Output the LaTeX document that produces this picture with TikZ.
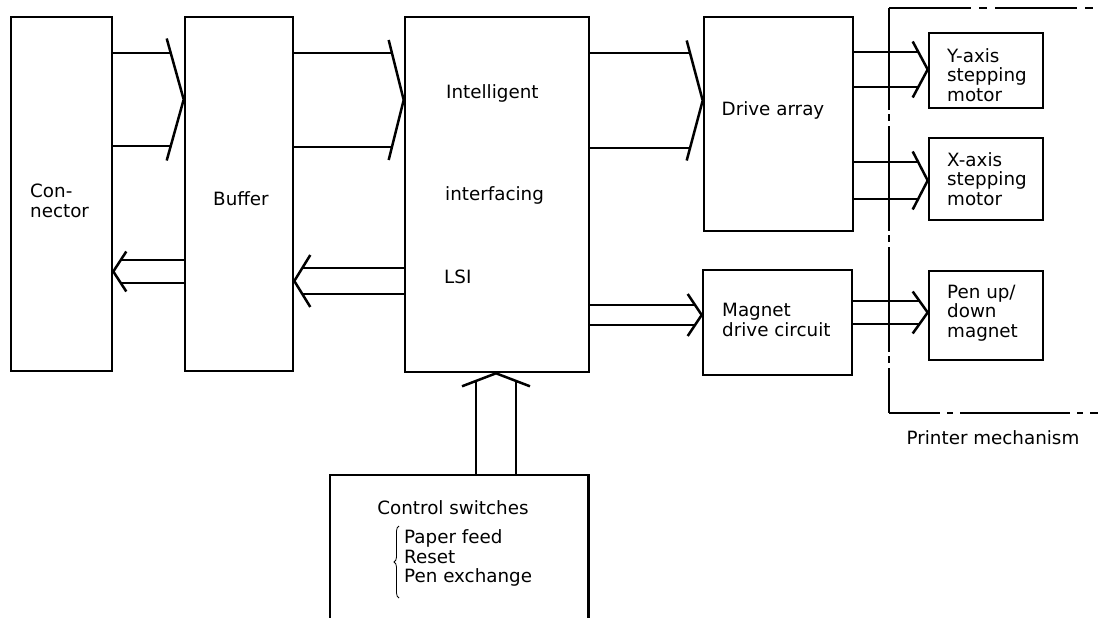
\documentclass[tikz,border=0pt]{standalone}
\usepackage{fontspec}
\setmainfont{DejaVu Sans}
\newfontfamily\lblfont{DejaVu Sans}
\usetikzlibrary{calc,decorations.pathreplacing}
\tikzset{
  box/.style={draw, line width=2.6pt, inner sep=0pt, rectangle},
  bus/.style={line width=2.5pt},
  lbl/.style={inner sep=0pt, font=\lblfont\fontsize{18.3}{19.6}\selectfont, align=left},
  frame/.style={line width=2.4pt},
}
% horizontal double-line bus with chevron head
% #1 start anchor, #2 tip anchor, #3 y middle, #4 half spacing, #5 arm half height, #6 arm depth (signed)
\newcommand\hbus[6]{%
  \coordinate (ytmp) at (0,#3);
  \coordinate (tip) at (#2 |- ytmp);
  \coordinate (ya) at (0,{#3-#4});
  \coordinate (yb) at (0,{#3+#4});
  \draw[bus] (#1 |- ya) -- ($(tip)+({-(#6)*(#4)/(#5)},{-(#4)})$);
  \draw[bus] (#1 |- yb) -- ($(tip)+({-(#6)*(#4)/(#5)},{#4})$);
  \draw[bus] ($(tip)+({-(#6)},{-(#5)})$) -- (tip) -- ($(tip)+({-(#6)},{#5})$);
}
% vertical upward bus
\newcommand\vbus[6]{%
  \coordinate (xtmp) at (#3,0);
  \coordinate (tip) at (#2 -| xtmp);
  \coordinate (xa) at ({#3-#4},0);
  \coordinate (xb) at ({#3+#4},0);
  \draw[bus] (#1 -| xa) -- ($(tip)+({-(#4)},{(#6)*(#4)/(#5)})$);
  \draw[bus] (#1 -| xb) -- ($(tip)+({#4},{(#6)*(#4)/(#5)})$);
  \draw[bus] ($(tip)+({-(#5)},{#6})$) -- (tip) -- ($(tip)+({#5},{#6})$);
}
\begin{document}
\begin{tikzpicture}[x=1pt,y=-1pt]
\useasboundingbox (0,0) rectangle (1098,618);

% boxes
\node[box, minimum width=101pt, minimum height=354pt] (conn) at (61.5,194) {};
\node[box, minimum width=108pt, minimum height=354pt] (buf) at (239,194) {};
\node[box, minimum width=184pt, minimum height=355pt] (lsi) at (497,194.5) {};
\node[box, minimum width=149pt, minimum height=214pt] (drive) at (778.5,124) {};
\node[box, minimum width=149pt, minimum height=105pt] (magnet) at (777.5,322.5) {};
\node[box, minimum width=114pt, minimum height=75pt] (yax) at (986,70.5) {};
\node[box, minimum width=114pt, minimum height=82pt] (xax) at (986,179) {};
\node[box, minimum width=114pt, minimum height=89pt] (pen) at (986,315.5) {};
\node[inner sep=0pt, minimum width=258pt, minimum height=147pt] (ctrl) at (459,548.5) {};
\draw[line width=2.6pt] (ctrl.south west) -- (ctrl.north west) -- (ctrl.north east) -- (ctrl.south east);

% texts
\node[lbl, anchor=west] (tconn) at (30,201) {Con-\\nector};
\node[lbl] (tbuf) at (241,199) {Buffer};
\node[lbl, anchor=west] (tl1) at (446,93) {Intelligent};
\node[lbl, anchor=west] (tl2) at (445,195) {interfacing};
\node[lbl, anchor=west] (tl3) at (444,277) {LSI};
\node[lbl] (tdrive) at (773,110) {Drive array};
\node[lbl, anchor=west] (tmag) at (722,320) {Magnet\\drive circuit};
\node[lbl, anchor=west] (tyax) at (947,75) {Y-axis\\stepping\\motor};
\node[lbl, anchor=west] (txax) at (947,179) {X-axis\\stepping\\motor};
\node[lbl, anchor=west] (tpen) at (947,313) {Pen up/\\down\\magnet};
\node[lbl] (tctrl) at (453,508) {Control switches};
\node[lbl, anchor=west] (tsw) at (404,558) {Paper feed\\Reset\\Pen exchange};
\node[lbl] (tpm) at (993,438) {Printer mechanism};
\draw[line width=0.8pt, decorate, decoration={brace, amplitude=5pt}] (399,598) -- (399,526);

% printer mechanism frame
\draw[frame, dash pattern=on 82pt off 8pt on 8pt off 8pt] (889,8) -- (1100,8);
\draw[frame, dash pattern=on 105pt off 4pt on 7pt off 5pt, dash phase=3pt] (889,8) -- (889,413);
\draw[frame, dash pattern=on 110pt off 7pt on 6pt off 7pt, dash phase=59pt] (889,413) -- (1100,413);

% buses
\hbus{conn.east}{buf.west}{99.5}{46.5}{61}{17}
\hbus{buf.east}{lsi.west}{100}{47}{60}{15}
\hbus{buf.west}{conn.east}{271.5}{11.5}{20}{-13}
\hbus{lsi.west}{buf.east}{281}{13}{26}{-16}
\hbus{lsi.east}{drive.west}{100.5}{47.5}{60}{16}
\hbus{lsi.east}{magnet.west}{315}{10}{21}{14}
\hbus{drive.east}{yax.west}{69.5}{17.5}{28}{15}
\hbus{drive.east}{xax.west}{180.5}{18.5}{29}{15}
\hbus{magnet.east}{pen.west}{312.5}{11.5}{21}{15}
\vbus{ctrl.north}{lsi.south}{496}{20}{34}{13}
\end{tikzpicture}
\end{document}
